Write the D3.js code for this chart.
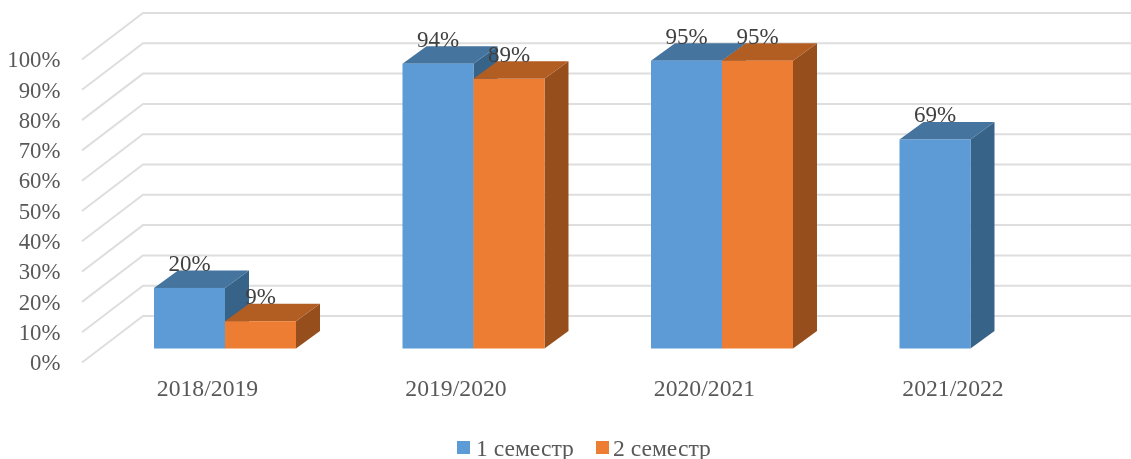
<!DOCTYPE html>
<html>
<head>
<meta charset="utf-8">
<script src="https://cdnjs.cloudflare.com/ajax/libs/d3/7.8.5/d3.min.js"></script>
<style>
html, body { margin: 0; padding: 0; background: #fff; overflow: hidden; }
svg { display: block; }
text { font-family: "Liberation Serif", "Times New Roman", serif; }
</style>
</head>
<body>
<div id="chart"></div>
<script>
const categories = ['2018/2019', '2019/2020', '2020/2021', '2021/2022'];
const seriesNames = ['1 семестр', '2 семестр'];
const semester1 = [20, 94, 95, 69];
const semester2 = [9, 89, 95, null];
const tickValues = [0, 10, 20, 30, 40, 50, 60, 70, 80, 90, 100];

const width = 1131, height = 459;

// colours for each series: front, top, side
const colors = [
    { front: '#5b9bd5', top: '#44749f', side: '#376389' },
    { front: '#ed7d31', top: '#b25d24', side: '#964f1d' }
];

const svg = d3.select('#chart')
    .append('svg')
    .attr('width', width)
    .attr('height', height);

// slight softening, the reference is a scaled bitmap
const defs = svg.append('defs');
defs.append('filter').attr('id', 'soft')
    .attr('x', 0).attr('y', 0).attr('width', 1).attr('height', 1)
    .attr('filterUnits', 'userSpaceOnUse')
    .attr('width', width).attr('height', height)
    .append('feGaussianBlur').attr('stdDeviation', 0.65);

const root = svg.append('g').attr('filter', 'url(#soft)');

// y is the plane of the bar fronts
const y = d3.scaleLinear().domain([0, 100]).range([348.5, 45.5]);
const x = d3.scaleBand().domain(categories).range([100.75, 1094.75]).paddingInner(0.4286).paddingOuter(0.2143);
const x1 = d3.scaleBand().domain([0, 1]).range([0, x.bandwidth()]);

// offsets of the 3d box
const floorFront = { dx: 82, dy: 14 };
const wall = { x: 143, dy: -32.5 };
const depth = { dx: 24, dy: -17.5 };

// grid on the side and back walls
root.append('g')
    .selectAll('path')
    .data(tickValues)
    .enter().append('path')
    .attr('d', d => `M${floorFront.dx},${y(d) + floorFront.dy}L${wall.x},${y(d) + wall.dy}L${width + 5},${y(d) + wall.dy}`)
    .attr('fill', 'none')
    .attr('stroke', '#dedede')
    .attr('stroke-width', 2);

// y axis
const yAxis = root.append('g')
    .attr('transform', `translate(66,${floorFront.dy})`)
    .call(d3.axisLeft(y).tickValues(tickValues).tickSize(0).tickPadding(5.5).tickFormat(d => d + '%'));
yAxis.select('.domain').remove();
yAxis.selectAll('text').attr('font-size', 22.8).attr('fill', '#595959')
    .attr('font-family', '"Liberation Serif", serif');

// x axis, labels sit on the floor so they are shifted left of the bars
const xAxis = root.append('g')
    .attr('transform', 'translate(-17.5,379.5)')
    .call(d3.axisBottom(x).tickSize(0).tickPadding(0));
xAxis.select('.domain').remove();
xAxis.selectAll('text').attr('font-size', 23.7).attr('fill', '#595959')
    .attr('font-family', '"Liberation Serif", serif');

// bars
const rows = [];
categories.forEach((c, i) => {
    [semester1[i], semester2[i]].forEach((v, s) => {
        if (v !== null) rows.push({ category: c, s, value: v });
    });
});

const bar = root.append('g')
    .selectAll('g')
    .data(rows)
    .enter().append('g')
    .attr('transform', d => `translate(${x(d.category) + x1(d.s)},0)`);

const bw = x1.bandwidth();

bar.append('path')
    .attr('d', d => `M${bw},${y(0)}L${bw + depth.dx},${y(0) + depth.dy}L${bw + depth.dx},${y(d.value) + depth.dy}L${bw},${y(d.value)}Z`)
    .attr('fill', d => colors[d.s].side);

bar.append('path')
    .attr('d', d => `M0,${y(d.value)}L${depth.dx},${y(d.value) + depth.dy}L${bw + depth.dx},${y(d.value) + depth.dy}L${bw},${y(d.value)}Z`)
    .attr('fill', d => colors[d.s].top);

bar.append('rect')
    .attr('y', d => y(d.value))
    .attr('width', bw)
    .attr('height', d => y(0) - y(d.value))
    .attr('fill', d => colors[d.s].front);

// data labels go above all the bars
root.append('g')
    .selectAll('text')
    .data(rows)
    .enter().append('text')
    .attr('x', d => x(d.category) + x1(d.s) + bw / 2)
    .attr('y', d => y(d.value) - 17)
    .attr('text-anchor', 'middle')
    .attr('font-size', 23)
    .attr('fill', '#404040')
    .text(d => d.value + '%');

// legend
const legendX = [457, 596];
const legend = root.append('g')
    .selectAll('g')
    .data(seriesNames)
    .enter().append('g')
    .attr('transform', (d, i) => `translate(${legendX[i]},441)`);

legend.append('rect')
    .attr('width', 13)
    .attr('height', 13)
    .attr('fill', (d, i) => colors[i].front);

legend.append('text')
    .attr('x', (d, i) => i === 0 ? 19 : 17)
    .attr('y', 14.5)
    .attr('font-size', 23.6)
    .attr('fill', '#595959')
    .text(d => d);
</script>
</body>
</html>
